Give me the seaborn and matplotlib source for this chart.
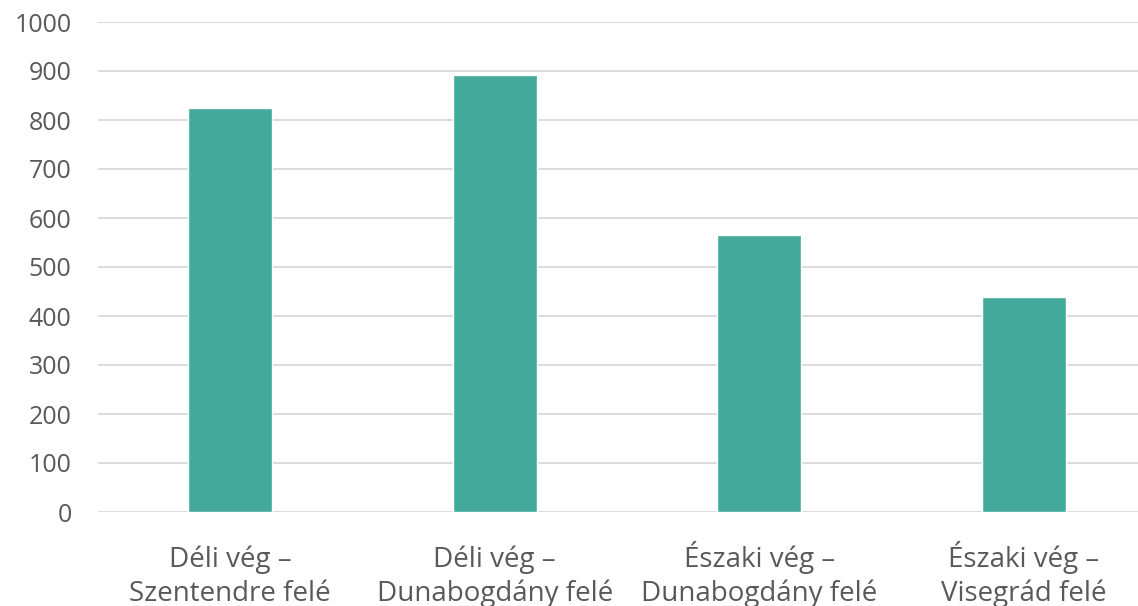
import matplotlib
matplotlib.use("Agg")
import matplotlib.pyplot as plt
import seaborn as sns
import pandas as pd

# Data
categories = ["Déli vég –\nSzentendre felé", "Déli vég –\nDunabogdány felé",
              "Északi vég –\nDunabogdány felé", "Északi vég –\nVisegrád felé"]
values = [824, 891, 565, 439]
yticks = [0, 100, 200, 300, 400, 500, 600, 700, 800, 900, 1000]

sns.set_style("white")
plt.rcParams['font.family'] = ['Open Sans', 'DejaVu Sans']

df = pd.DataFrame({"cat": categories, "val": values})

fig = plt.figure(figsize=(11.38, 6.06), dpi=100)
ax = fig.add_axes([98 / 1138, 94 / 606, 1040 / 1138, 490 / 606])

sns.barplot(data=df, x="cat", y="val", color="#43AA9B", width=0.317,
            saturation=1, ax=ax, zorder=3)

ax.set_ylim(0, 1000)
ax.set_xlim(-0.5, -0.5 + 1040 / 264.5)
ax.set_yticks(yticks)
ax.yaxis.grid(True, color="#D9D9D9", linewidth=1.3, zorder=0)
ax.set_axisbelow(True)
for s in ax.spines.values():
    s.set_visible(False)
ax.set_xlabel("")
ax.set_ylabel("")
ax.tick_params(axis="both", length=0, labelcolor="#595959")
ax.tick_params(axis="y", pad=19, labelsize=18)
ax.tick_params(axis="x", pad=64, labelsize=20)
# align on baseline so accented labels sit level with the rest
for lbl in ax.get_xticklabels():
    lbl.set_linespacing(1.27)
    lbl.set_verticalalignment("baseline")

fig.savefig("out.png", dpi=100)
